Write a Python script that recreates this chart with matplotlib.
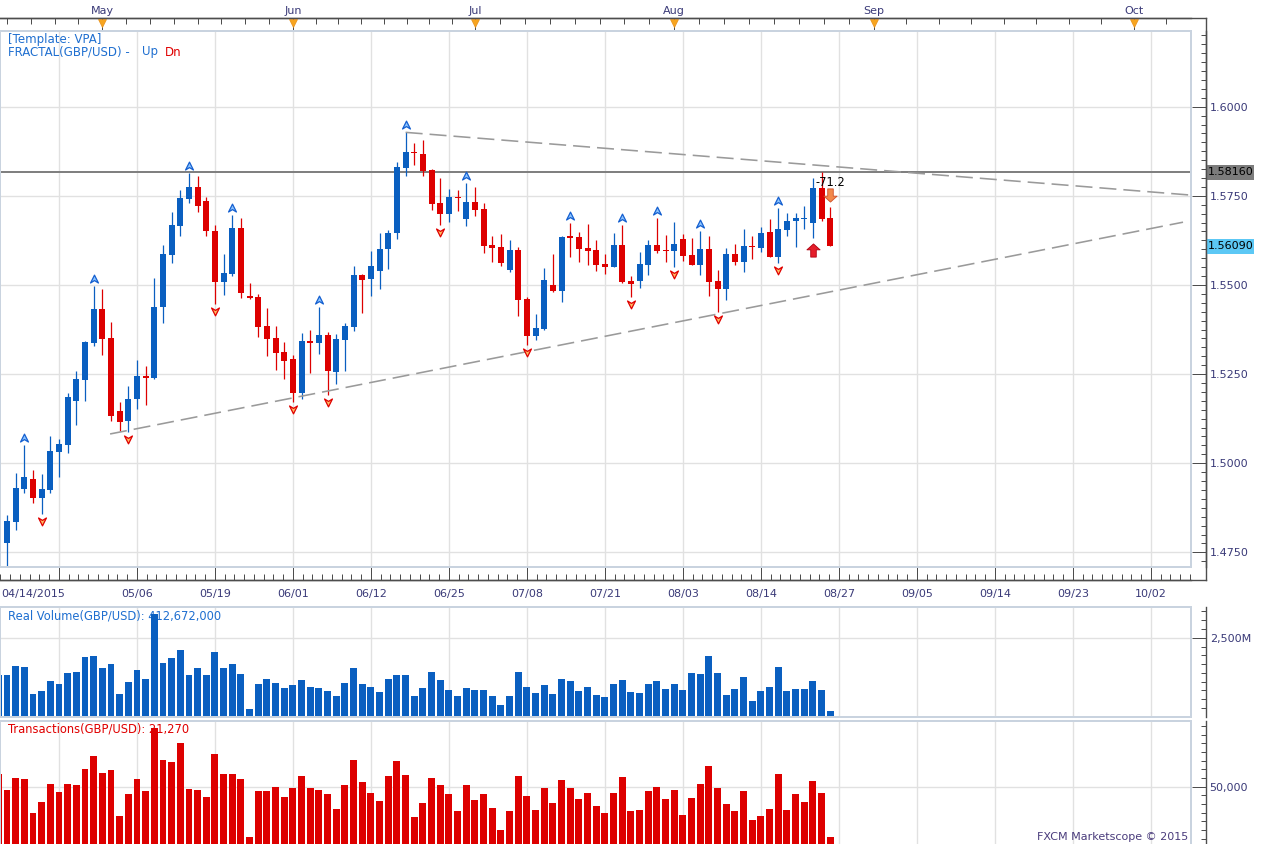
import numpy as np
import matplotlib
matplotlib.use("Agg")
import matplotlib.pyplot as plt
from matplotlib import transforms
from matplotlib.patches import Rectangle
from matplotlib.lines import Line2D
from matplotlib.path import Path
from matplotlib.markers import MarkerStyle
from matplotlib.ticker import FixedLocator, MultipleLocator

plt.rcParams['font.family'] = ['DejaVu Sans']

# ---------------- data (GBP/USD daily, 04/14/2015 - 08/26/2015) ----------------
open_ = [1.4650, 1.4777, 1.4836, 1.4929, 1.4956, 1.4903, 1.4926, 1.5031, 1.5052, 1.5175,
         1.5234, 1.5337, 1.5433, 1.5351, 1.5146, 1.5117, 1.5179, 1.5245, 1.5240, 1.5439,
         1.5584, 1.5666, 1.5741, 1.5775, 1.5736, 1.5652, 1.5509, 1.5531, 1.5660, 1.5470,
         1.5466, 1.5385, 1.5351, 1.5313, 1.5292, 1.5198, 1.5343, 1.5338, 1.5360, 1.5257,
         1.5346, 1.5383, 1.5528, 1.5516, 1.5540, 1.5600, 1.5645, 1.5829, 1.5874, 1.5868,
         1.5822, 1.5730, 1.5699, 1.5747, 1.5685, 1.5733, 1.5713, 1.5612, 1.5606, 1.5542,
         1.5598, 1.5461, 1.5358, 1.5377, 1.5500, 1.5484, 1.5636, 1.5634, 1.5604, 1.5599,
         1.5559, 1.5551, 1.5612, 1.5511, 1.5512, 1.5557, 1.5612, 1.5598, 1.5596, 1.5629,
         1.5584, 1.5557, 1.5601, 1.5511, 1.5490, 1.5587, 1.5565, 1.5609, 1.5605, 1.5648,
         1.5579, 1.5654, 1.5678, 1.5686, 1.5675, 1.5773, 1.5689]
high = [1.4790, 1.4855, 1.4972, 1.5051, 1.4981, 1.4970, 1.5076, 1.5067, 1.5196, 1.5260,
        1.5343, 1.5498, 1.5489, 1.5396, 1.5172, 1.5217, 1.5290, 1.5273, 1.5520, 1.5612,
        1.5706, 1.5766, 1.5813, 1.5806, 1.5746, 1.5668, 1.5587, 1.5696, 1.5687, 1.5505,
        1.5474, 1.5435, 1.5385, 1.5340, 1.5304, 1.5364, 1.5374, 1.5439, 1.5367, 1.5362,
        1.5392, 1.5553, 1.5531, 1.5596, 1.5645, 1.5653, 1.5846, 1.5928, 1.5897, 1.5907,
        1.5824, 1.5800, 1.5769, 1.5765, 1.5787, 1.5774, 1.5729, 1.5637, 1.5643, 1.5626,
        1.5607, 1.5466, 1.5419, 1.5548, 1.5587, 1.5637, 1.5673, 1.5649, 1.5671, 1.5626,
        1.5587, 1.5645, 1.5668, 1.5525, 1.5592, 1.5626, 1.5689, 1.5641, 1.5677, 1.5643,
        1.5633, 1.5650, 1.5636, 1.5542, 1.5605, 1.5615, 1.5657, 1.5636, 1.5662, 1.5686,
        1.5717, 1.5701, 1.5701, 1.5722, 1.5801, 1.5816, 1.5718]
low = [1.4630, 1.4710, 1.4813, 1.4917, 1.4889, 1.4858, 1.4917, 1.4962, 1.5030, 1.5107,
       1.5175, 1.5330, 1.5304, 1.5117, 1.5091, 1.5088, 1.5152, 1.5163, 1.5236, 1.5394,
       1.5561, 1.5636, 1.5731, 1.5704, 1.5638, 1.5447, 1.5472, 1.5525, 1.5463, 1.5461,
       1.5355, 1.5301, 1.5262, 1.5236, 1.5173, 1.5181, 1.5254, 1.5305, 1.5191, 1.5223,
       1.5259, 1.5372, 1.5422, 1.5469, 1.5490, 1.5544, 1.5628, 1.5806, 1.5837, 1.5806,
       1.5710, 1.5668, 1.5676, 1.5708, 1.5664, 1.5693, 1.5591, 1.5563, 1.5553, 1.5535,
       1.5414, 1.5332, 1.5346, 1.5375, 1.5479, 1.5453, 1.5579, 1.5563, 1.5555, 1.5540,
       1.5532, 1.5549, 1.5505, 1.5467, 1.5492, 1.5529, 1.5591, 1.5565, 1.5551, 1.5567,
       1.5556, 1.5529, 1.5470, 1.5424, 1.5458, 1.5557, 1.5535, 1.5573, 1.5592, 1.5579,
       1.5561, 1.5636, 1.5607, 1.5656, 1.5633, 1.5680, 1.5609]
close = [1.4780, 1.4838, 1.4931, 1.4961, 1.4903, 1.4928, 1.5034, 1.5054, 1.5186, 1.5236,
         1.5340, 1.5433, 1.5349, 1.5133, 1.5116, 1.5180, 1.5245, 1.5240, 1.5438, 1.5587,
         1.5668, 1.5744, 1.5775, 1.5722, 1.5650, 1.5509, 1.5533, 1.5661, 1.5478, 1.5464,
         1.5383, 1.5349, 1.5310, 1.5288, 1.5198, 1.5343, 1.5338, 1.5360, 1.5260, 1.5348,
         1.5385, 1.5528, 1.5514, 1.5553, 1.5602, 1.5647, 1.5831, 1.5874, 1.5870, 1.5820,
         1.5727, 1.5699, 1.5747, 1.5745, 1.5733, 1.5710, 1.5610, 1.5605, 1.5561, 1.5598,
         1.5458, 1.5358, 1.5379, 1.5514, 1.5483, 1.5635, 1.5633, 1.5601, 1.5596, 1.5557,
         1.5551, 1.5612, 1.5507, 1.5504, 1.5559, 1.5612, 1.5596, 1.5596, 1.5615, 1.5582,
         1.5557, 1.5601, 1.5509, 1.5490, 1.5587, 1.5564, 1.5609, 1.5606, 1.5646, 1.5579,
         1.5658, 1.5680, 1.5688, 1.5688, 1.5773, 1.5685, 1.5609]
real_volume_m = [1438, 1438, 1694, 1665, 897, 982, 1267, 1182, 1495, 1523,
                 1950, 1979, 1637, 1751, 897, 1238, 1580, 1324, 3175, 1780,
                 1922, 2150, 1438, 1637, 1438, 2093, 1637, 1751, 1466, 470,
                 1182, 1324, 1210, 1068, 1153, 1295, 1096, 1068, 982, 840,
                 1210, 1637, 1182, 1096, 954, 1324, 1438, 1438, 840, 1068,
                 1523, 1295, 1011, 840, 1068, 1011, 1011, 840, 584, 840,
                 1523, 1096, 925, 1153, 897, 1324, 1267, 982, 1096, 868,
                 811, 1182, 1295, 954, 925, 1182, 1267, 1039, 1182, 1011,
                 1495, 1466, 1979, 1495, 868, 1039, 1381, 697, 982, 1096,
                 1665, 982, 1039, 1039, 1267, 1011, 412.672]
transactions = [57500, 48290, 55200, 54430, 34880, 41200, 51550, 46950, 51550, 50980,
                60180, 67660, 57880, 59600, 33150, 45800, 54430, 47530, 83760, 65360,
                64210, 75130, 48680, 48100, 44080, 68810, 57300, 57300, 54430, 21070,
                47530, 47530, 49830, 44080, 49250, 56150, 49250, 48100, 45800, 37180,
                50980, 65360, 52700, 46380, 41780, 56150, 64780, 56730, 32570, 40630,
                55000, 50980, 45800, 36030, 50980, 42350, 45800, 37750, 25100, 36030,
                56150, 44650, 36600, 49250, 40630, 53850, 49250, 42930, 46380, 38900,
                34880, 46380, 55580, 36030, 36600, 47530, 49830, 42930, 48100, 33720,
                43500, 51550, 61900, 49250, 40050, 36030, 47530, 30850, 33150, 37180,
                57300, 36600, 45800, 41200, 53280, 46380, 21270]
fractal_up_idx = [3, 11, 22, 27, 37, 47, 54, 66, 72, 76, 81, 90]
fractal_dn_idx = [5, 15, 25, 34, 38, 51, 61, 73, 78, 83, 90]
signal_up_idx = [94]
signal_dn_idx = [96]
signal_text = "-71.2"
resistance = 1.5816
last_price = 1.5609
upper_trend_x = [47, 137.6]
upper_trend_y = [1.5928, 1.5752]
lower_trend_x = [12.9, 136.7]
lower_trend_y = [1.5082, 1.5676]
date_tick_labels = ['04/14/2015', '05/06', '05/19', '06/01', '06/12', '06/25', '07/08',
                    '07/21', '08/03', '08/14', '08/27', '09/05', '09/14', '09/23', '10/02']
date_tick_pos = [7 + 9 * k for k in range(len(date_tick_labels))]
month_labels = ['May', 'Jun', 'Jul', 'Aug', 'Sep', 'Oct']
month_pos = [12, 34, 55, 78, 101, 131]
price_ticks = [1.475, 1.500, 1.525, 1.550, 1.575, 1.600]

# ---------------- layout helpers ----------------
W, H = 1263, 844
fig = plt.figure(figsize=(W / 100, H / 100), dpi=100)
PX = 0.72


def R(x0, y0, x1, y1):
    return [x0 / W, 1 - y1 / H, (x1 - x0) / W, (y1 - y0) / H]


def fx(x):
    return x / W


def fy(y):
    return 1 - y / H


XL = (0.196, 137.62)
AXC = '#4d4d4d'
TXT = '#3a3a78'
FRAME = '#c9d3df'
GRID = '#e1e1e1'
BLUE = '#0a5fc0'
RED = '#dd0000'

o = np.array(open_); h = np.array(high); l = np.array(low); c = np.array(close)
x = np.arange(len(c))
up = c >= o
cols = np.where(up, BLUE, RED)

# ---------------- price panel ----------------
ax = fig.add_axes(R(0, 31, 1191, 567.3))
ax.set_axisbelow(True)
ax.vlines(x, l, h, colors=cols, lw=0.9, zorder=3)
ax.bar(x, np.maximum(np.abs(c - o), 0.0003), bottom=np.minimum(o, c), width=0.68,
       color=cols, linewidth=0, zorder=3)
ax.axhline(resistance, color='#808080', lw=2 * PX, zorder=2.5)
lw_t = 1.6 * PX
ax.plot(upper_trend_x, upper_trend_y, color='#9a9a9a', lw=lw_t,
        dashes=(17 * PX / lw_t, 7 * PX / lw_t), zorder=4)
ax.plot(lower_trend_x, lower_trend_y, color='#9a9a9a', lw=lw_t,
        dashes=(17 * PX / lw_t, 7 * PX / lw_t), zorder=4)

dart_up = Path([(0, 1), (0.9, -0.8), (0, -0.25), (-0.9, -0.8), (0, 1)],
               [Path.MOVETO, Path.LINETO, Path.LINETO, Path.LINETO, Path.CLOSEPOLY])
dart_dn = Path([(0, -1), (0.9, 0.8), (0, 0.25), (-0.9, 0.8), (0, -1)],
               [Path.MOVETO, Path.LINETO, Path.LINETO, Path.LINETO, Path.CLOSEPOLY])
blk_up = Path([(0, 1), (1, 0.1), (0.42, 0.1), (0.42, -1), (-0.42, -1), (-0.42, 0.1), (-1, 0.1), (0, 1)],
              [Path.MOVETO] + [Path.LINETO] * 6 + [Path.CLOSEPOLY])
blk_dn = Path([(0, -1), (1, -0.1), (0.42, -0.1), (0.42, 1), (-0.42, 1), (-0.42, -0.1), (-1, -0.1), (0, -1)],
              [Path.MOVETO] + [Path.LINETO] * 6 + [Path.CLOSEPOLY])

tr_fu = transforms.offset_copy(ax.transData, fig=fig, x=0, y=7, units='dots')
tr_fd = transforms.offset_copy(ax.transData, fig=fig, x=0, y=-7, units='dots')
tr_su = transforms.offset_copy(ax.transData, fig=fig, x=0, y=-12.5, units='dots')
tr_sd = transforms.offset_copy(ax.transData, fig=fig, x=0, y=12, units='dots')
ax.plot(x[fractal_up_idx], h[fractal_up_idx], ls='none', marker=MarkerStyle(dart_up), ms=6.3,
        mfc='#8cc4ff', mec='#1560d0', mew=0.9, transform=tr_fu, zorder=5)
ax.plot(x[fractal_dn_idx], l[fractal_dn_idx], ls='none', marker=MarkerStyle(dart_dn), ms=6.3,
        mfc='#ffb860', mec='#e00000', mew=0.9, transform=tr_fd, zorder=5)
ax.plot(x[signal_up_idx], l[signal_up_idx], ls='none', marker=MarkerStyle(blk_up), ms=9.5,
        mfc='#e41e2a', mec='#b00010', mew=0.6, transform=tr_su, zorder=5)
ax.plot(x[signal_dn_idx], h[signal_dn_idx], ls='none', marker=MarkerStyle(blk_dn), ms=9.5,
        mfc='#f2884a', mec='#d0502a', mew=0.6, transform=tr_sd, zorder=5)
ax.text(x[signal_dn_idx[0]], h[signal_dn_idx[0]], signal_text, ha='center', va='center',
        fontsize=8.3, color='black', zorder=6,
        transform=transforms.offset_copy(ax.transData, fig=fig, x=0, y=25, units='dots'))

ax.set_xlim(*XL)
ax.set_ylim(1.4708, 1.62123)
for s in ['left', 'top']:
    ax.spines[s].set_visible(False)
ax.spines['right'].set_position(('outward', 14.5 * PX))
ax.spines['bottom'].set_position(('outward', 12.7 * PX))
for s in ['right', 'bottom']:
    ax.spines[s].set_color(AXC)
    ax.spines[s].set_linewidth(1.0)
ax.yaxis.tick_right()
ax.yaxis.set_major_locator(FixedLocator(price_ticks))
ax.set_yticklabels([f'{v:.4f}' for v in price_ticks])
ax.yaxis.set_minor_locator(MultipleLocator(0.0025))
ax.xaxis.set_major_locator(FixedLocator(date_tick_pos))
ax.set_xticklabels([''] + date_tick_labels[1:])
date_minor = [v for v in np.arange(7 - 1.125 * 6, XL[1], 1.125) if abs((v - 7) / 9 - round((v - 7) / 9)) > 1e-6]
ax.xaxis.set_minor_locator(FixedLocator(date_minor))
ax.tick_params(axis='y', which='major', direction='in', length=14.5 * PX, width=PX, color=AXC,
               labelsize=8, labelcolor=TXT, pad=3)
ax.tick_params(axis='y', which='minor', direction='in', length=5 * PX, width=PX, color=AXC)
ax.tick_params(axis='x', which='major', direction='in', length=12.7 * PX, width=PX, color=AXC,
               labelsize=8, labelcolor=TXT, pad=6.5)
ax.tick_params(axis='x', which='minor', direction='in', length=6 * PX, width=PX, color=AXC)
ax.grid(True, which='major', color=GRID, lw=1.0)
fig.text(fx(1), fy(589), date_tick_labels[0], ha='left', va='top', fontsize=8, color=TXT)

# price label boxes
bt = transforms.blended_transform_factory(fig.transFigure, ax.transData)
for val, fc in [(resistance, '#7c7c7c'), (last_price, '#5cc8f5')]:
    ax.add_artist(Rectangle((fx(1206), val - 7.5 / 3565), 48 / W, 15 / 3565, transform=bt,
                            fc=fc, ec='none', clip_on=False, zorder=10))
    ax.text(fx(1207.5), val, f'{val:.5f}', transform=bt, ha='left', va='center', fontsize=8,
            color='black', zorder=11, clip_on=False)

# top month axis
axt = ax.twiny()
axt.set_xlim(*XL)
for s in ['left', 'right', 'bottom']:
    axt.spines[s].set_visible(False)
axt.spines['top'].set_position(('outward', 12.7 * PX))
axt.spines['top'].set_color(AXC)
axt.spines['top'].set_linewidth(1.0)
axt.xaxis.set_major_locator(FixedLocator(month_pos))
axt.set_xticklabels(month_labels)
month_minor = []
step0 = (month_pos[1] - month_pos[0]) / 8
t = month_pos[0] - step0
while t > XL[0]:
    month_minor.append(t); t -= step0
for a, b in zip(month_pos[:-1], month_pos[1:]):
    month_minor += list(np.linspace(a, b, 9)[1:-1])
step1 = (month_pos[-1] - month_pos[-2]) / 8
t = month_pos[-1] + step1
while t < XL[1]:
    month_minor.append(t); t += step1
axt.xaxis.set_minor_locator(FixedLocator(month_minor))
axt.tick_params(axis='x', which='major', direction='in', length=12.7 * PX, width=PX, color=AXC,
                labelsize=8, labelcolor=TXT, pad=2)
axt.tick_params(axis='x', which='minor', direction='in', length=5.5 * PX, width=PX, color=AXC)
tri_tr = transforms.blended_transform_factory(axt.transData, fig.transFigure)
axt.plot(month_pos, [fy(23.3)] * len(month_pos), ls='none', marker='v', ms=6.2, color='#f7a520',
         mec='#e8901a', mew=0.5, transform=tri_tr, clip_on=False, zorder=10)
axt.set_xlim(*XL)

# ---------------- real volume panel ----------------
axv = fig.add_axes(R(0, 607.3, 1191, 716.7))
axv.set_axisbelow(True)
axv.bar(x, real_volume_m, width=0.8, color=BLUE, linewidth=0, zorder=3)
axv.text(fx(8), fy(616), 'Real Volume(GBP/USD): 412,672,000', transform=fig.transFigure,
         fontsize=8.3, color='#1f6fd0', va='center', ha='left', zorder=1)
axv.set_xlim(*XL)
axv.set_ylim(252, 3366)

# ---------------- transactions panel ----------------
axr = fig.add_axes(R(0, 721, 1191, 844))
axr.set_axisbelow(True)
axr.bar(x, transactions, width=0.8, color=RED, linewidth=0, zorder=3)
axr.text(fx(8), fy(729), 'Transactions(GBP/USD): 21,270', transform=fig.transFigure,
         fontsize=8.3, color='#e00000', va='center', ha='left', zorder=1)
axr.set_xlim(*XL)
axr.set_ylim(17047, 87790)

for a, maj, lab, mnr in [(axv, [2500], ['2,500M'], 250), (axr, [50000], ['50,000'], 5000)]:
    for s in ['left', 'top', 'bottom']:
        a.spines[s].set_visible(False)
    a.spines['right'].set_position(('outward', 14.5 * PX))
    a.spines['right'].set_color(AXC)
    a.spines['right'].set_linewidth(1.0)
    a.yaxis.tick_right()
    a.yaxis.set_major_locator(FixedLocator(maj))
    a.set_yticklabels(lab)
    a.yaxis.set_minor_locator(MultipleLocator(mnr))
    a.tick_params(axis='y', which='major', direction='in', length=14.5 * PX, width=PX, color=AXC,
                  labelsize=8, labelcolor=TXT, pad=3)
    a.tick_params(axis='y', which='minor', direction='in', length=5 * PX, width=PX, color=AXC)
    a.xaxis.set_major_locator(FixedLocator(date_tick_pos))
    a.tick_params(axis='x', which='both', length=0, labelbottom=False)
    a.grid(True, which='major', color=GRID, lw=1.0)

# ---------------- frames and axis connectors ----------------
for (x0, y0, x1, y1) in [(0, 31, 1191, 567.3), (0, 607.3, 1191, 716.7), (0, 721, 1191, 850)]:
    fig.add_artist(Rectangle((fx(x0), fy(y1)), (x1 - x0) / W, (y1 - y0) / H, transform=fig.transFigure,
                             fill=False, ec=FRAME, lw=2 * PX, zorder=1))
fig.add_artist(Line2D([0, fx(1205.5)], [fy(18.3)] * 2, transform=fig.transFigure, color=AXC, lw=1.0))
fig.add_artist(Line2D([0, fx(1205.5)], [fy(580)] * 2, transform=fig.transFigure, color=AXC, lw=1.0))
fig.add_artist(Line2D([fx(1205.5)] * 2, [fy(18.3), fy(580)], transform=fig.transFigure, color=AXC, lw=1.0))

# ---------------- indicator captions ----------------
fig.text(fx(8), fy(39), '[Template: VPA]', fontsize=8.5, color='#1f6fd0', va='center', ha='left')
fig.text(fx(8), fy(52), 'FRACTAL(GBP/USD) -', fontsize=8.5, color='#1f6fd0', va='center', ha='left')
fig.text(fx(142), fy(52), 'Up', fontsize=8.5, color='#1f6fd0', va='center', ha='left')
fig.text(fx(165), fy(52), 'Dn', fontsize=8.5, color='#e00000', va='center', ha='left')
fig.text(fx(1188), fy(837), 'FXCM Marketscope \u00a9 2015', fontsize=8, color='#4a3c7c',
         va='center', ha='right')

fig.savefig('out.png', dpi=100)
